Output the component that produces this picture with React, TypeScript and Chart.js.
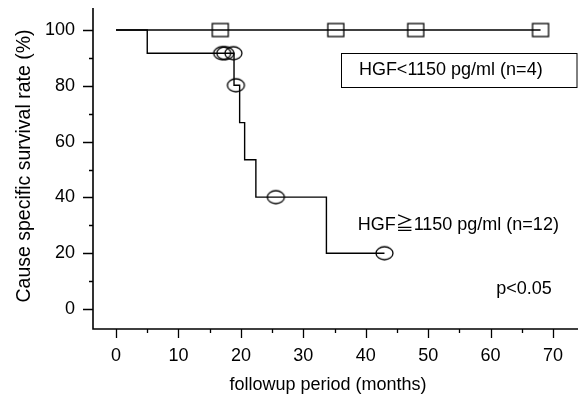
import React, { useEffect, useRef } from "react";
import { Chart, registerables } from "chart.js";

Chart.register(...registerables);

// ---- data ----
const lowMonths = [0, 68.0];
const lowRates = [100, 100];
const lowCensorMonths = [16.7, 35.2, 48.0, 68.0];
const lowCensorRates = [100, 100, 100, 100];

const highMonths = [0, 5.0, 18.9, 19.8, 20.6, 22.4, 33.7, 43.0];
const highRates = [100, 91.7, 80.2, 66.8, 53.5, 40.1, 20.0, 20.0];
const highCensorMonths = [17.0, 17.5, 18.8, 19.2, 25.6, 43.0];
const highCensorRates = [91.7, 91.7, 91.7, 80.2, 40.1, 20.0];

const xTickValues = [0, 10, 20, 30, 40, 50, 60, 70];
const xMinorValues = [5, 15, 25, 35, 45, 55, 65];
const yTickValues = [0, 20, 40, 60, 80, 100];
const yMinorValues = [10, 30, 50, 70, 90];

const xTitle = "followup period (months)";
const yTitle = "Cause specific survival rate (%)";
const lowLabel = "HGF<1150 pg/ml (n=4)";
const highLabel = "HGF\u22671150 pg/ml (n=12)";
const pLabel = "p<0.05";

const FONT = "'Liberation Sans', Arial, 'Noto Sans CJK JP', sans-serif";

function pts(xs: number[], ys: number[]) {
  return xs.map((x, i) => ({ x, y: ys[i] }));
}

function makeEllipse(w: number, h: number, lw: number) {
  const c = document.createElement("canvas");
  c.width = w + 4;
  c.height = h + 4;
  const ctx = c.getContext("2d")!;
  ctx.strokeStyle = "#000";
  ctx.lineWidth = lw;
  ctx.beginPath();
  ctx.ellipse(c.width / 2, c.height / 2, w / 2, h / 2, 0, 0, Math.PI * 2);
  ctx.stroke();
  return c;
}

function makeRect(w: number, h: number, lw: number) {
  const c = document.createElement("canvas");
  c.width = w + 4;
  c.height = h + 4;
  const ctx = c.getContext("2d")!;
  ctx.strokeStyle = "#000";
  ctx.lineWidth = lw;
  ctx.strokeRect(2, 2, w, h);
  return c;
}

const decorPlugin = {
  id: "decor",
  afterDraw(chart: any) {
    const ctx = chart.ctx as CanvasRenderingContext2D;
    const sx = chart.scales.x;
    const sy = chart.scales.y;
    const area = chart.chartArea;
    ctx.save();
    ctx.strokeStyle = "#000";
    ctx.fillStyle = "#000";

    // axis lines
    ctx.lineWidth = 1.6;
    ctx.beginPath();
    ctx.moveTo(area.left, area.top);
    ctx.lineTo(area.left, area.bottom);
    ctx.lineTo(chart.width, area.bottom);
    ctx.stroke();

    // tick marks
    ctx.lineWidth = 1.3;
    ctx.beginPath();
    xTickValues.forEach((v) => {
      const p = Math.round(sx.getPixelForValue(v)) + 0.5;
      ctx.moveTo(p, area.bottom);
      ctx.lineTo(p, area.bottom + 9);
    });
    xMinorValues.forEach((v) => {
      const p = Math.round(sx.getPixelForValue(v)) + 0.5;
      ctx.moveTo(p, area.bottom);
      ctx.lineTo(p, area.bottom + 4);
    });
    yTickValues.forEach((v) => {
      const p = Math.round(sy.getPixelForValue(v)) + 0.5;
      ctx.moveTo(area.left - 10, p);
      ctx.lineTo(area.left, p);
    });
    yMinorValues.forEach((v) => {
      const p = Math.round(sy.getPixelForValue(v)) + 0.5;
      ctx.moveTo(area.left - 4, p);
      ctx.lineTo(area.left, p);
    });
    ctx.stroke();

    // axis titles
    ctx.font = `18px ${FONT}`;
    ctx.textAlign = "center";
    ctx.textBaseline = "middle";
    ctx.fillText(xTitle, 328, 385);

    ctx.save();
    ctx.translate(25, 166);
    ctx.rotate(-Math.PI / 2);
    ctx.font = `19.5px ${FONT}`;
    ctx.fillText(yTitle, 0, 0);
    ctx.restore();

    // legend box and labels
    ctx.font = `18px ${FONT}`;
    ctx.textAlign = "left";
    ctx.lineWidth = 1;
    const bx = Math.round(sx.getPixelForValue(36.0)) + 0.5;
    const bt = Math.round(sy.getPixelForValue(91.6)) + 0.5;
    const bb = Math.round(sy.getPixelForValue(79.7)) + 0.5;
    ctx.strokeRect(bx, bt, chart.width - 1 - bx, bb - bt);
    ctx.fillText(lowLabel, sx.getPixelForValue(38.9), sy.getPixelForValue(85.7));
    ctx.fillText(highLabel, sx.getPixelForValue(38.7), sy.getPixelForValue(30.1));
    ctx.fillText(pLabel, sx.getPixelForValue(60.9), sy.getPixelForValue(7.2));
    ctx.restore();
  },
};

export default function App() {
  const ref = useRef<HTMLCanvasElement>(null);

  useEffect(() => {
    if (!ref.current) return;
    const circle = makeEllipse(17, 13, 1.3);
    const square = makeRect(16, 13, 1.3);
    const chart = new Chart(ref.current, {
      type: "line",
      data: {
        datasets: [
          {
            data: pts(lowMonths, lowRates),
            borderColor: "#000",
            borderWidth: 1.4,
            stepped: "before",
            pointRadius: 0,
            fill: false,
          },
          {
            data: pts(highMonths, highRates),
            borderColor: "#000",
            borderWidth: 1.4,
            stepped: "before",
            pointRadius: 0,
            fill: false,
          },
          {
            data: pts(lowCensorMonths, lowCensorRates),
            showLine: false,
            pointStyle: square as any,
            pointRadius: 8,
            borderColor: "#000",
          },
          {
            data: pts(highCensorMonths, highCensorRates),
            showLine: false,
            pointStyle: circle as any,
            pointRadius: 8,
            borderColor: "#000",
          },
        ],
      },
      options: {
        responsive: false,
        animation: false,
        devicePixelRatio: 1,
        layout: { autoPadding: false, padding: { top: 8, right: 0, left: 0, bottom: 0 } },
        plugins: { legend: { display: false }, tooltip: { enabled: false } },
        scales: {
          x: {
            type: "linear",
            min: -3.69,
            max: 74.0,
            grid: { display: false, drawTicks: false },
            border: { display: false },
            afterFit: (s: any) => {
              s.height = 70;
              s.paddingLeft = 0;
              s.paddingRight = 0;
              s.paddingTop = 0;
              s.paddingBottom = 0;
            },
            afterBuildTicks: (s: any) => {
              s.ticks = xTickValues.map((v) => ({ value: v }));
            },
            ticks: {
              autoSkip: false,
              maxRotation: 0,
              padding: 16,
              color: "#000",
              font: { family: FONT, size: 18 },
            },
          },
          y: {
            type: "linear",
            min: -7.17,
            max: 107.9,
            grid: { display: false, drawTicks: false },
            border: { display: false },
            afterFit: (s: any) => {
              s.width = 93;
              s.paddingLeft = 0;
              s.paddingRight = 0;
              s.paddingTop = 0;
              s.paddingBottom = 0;
            },
            afterBuildTicks: (s: any) => {
              s.ticks = yTickValues.map((v) => ({ value: v }));
            },
            ticks: {
              autoSkip: false,
              padding: 18,
              color: "#000",
              font: { family: FONT, size: 18 },
            },
          },
        },
      },
      plugins: [decorPlugin],
    });
    return () => chart.destroy();
  }, []);

  return (
    <div style={{ position: "fixed", left: 0, top: 0, width: 578, height: 399 }}>
      <canvas ref={ref} width={578} height={399} />
    </div>
  );
}
